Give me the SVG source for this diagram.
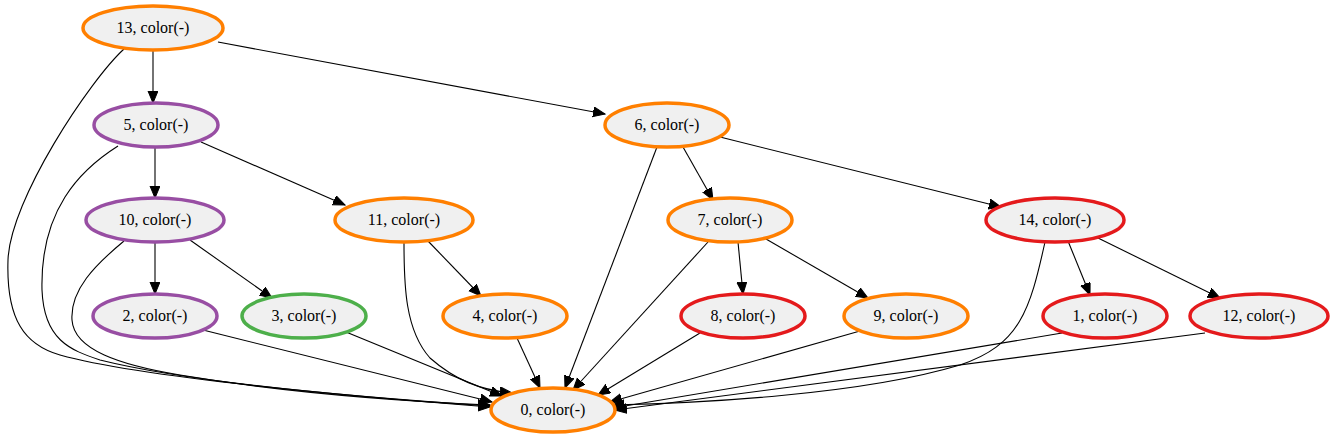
<svg xmlns="http://www.w3.org/2000/svg" width="1333" height="443" viewBox="0 0 1333 443">
<style>
.n ellipse{fill:#f0f0f0;stroke-width:3.5}
.n text{font-size:16px;text-anchor:middle;fill:#000}
.o ellipse{stroke:#ff7f00}.p ellipse{stroke:#984ea3}.g ellipse{stroke:#4daf4a}.r ellipse{stroke:#e41a1c}
#edges path{fill:none;stroke:#000;stroke-width:1.1;marker-end:url(#ah)}
</style>
<defs>
<marker id="ah" markerUnits="userSpaceOnUse" markerWidth="14" markerHeight="12" refX="12" refY="5" orient="auto">
<path d="M0,0 L12,5 L0,10 Z" fill="#000" stroke="#000"/>
</marker>
</defs>
<rect width="1333" height="443" fill="#fff"/>
<g id="edges">
<path d="M153,50 L153,103"/>
<path d="M218,42 L605,114"/>
<path d="M124,49 C90,80 10,200 8,260 C6,320 25,345 60,355 C150,380 400,400 490,407"/>
<path d="M155,147 L155,198"/>
<path d="M201,142 L345,205"/>
<path d="M118,146 C80,170 40,210 42,290 C44,340 70,350 100,360 C200,385 400,400 490,406"/>
<path d="M155,242 L155,294"/>
<path d="M190,240 L272,298"/>
<path d="M124,241 C95,265 70,290 72,320 C74,350 120,365 180,375 C300,395 420,402 490,405"/>
<path d="M683,147 L713,200"/>
<path d="M720,137 L1001,207"/>
<path d="M657,147 L565,388"/>
<path d="M428,241 L481,296"/>
<path d="M404,243 C404,285 405,330 430,358 C455,380 480,390 512,393"/>
<path d="M738,242 L743,294"/>
<path d="M766,239 L868,298"/>
<path d="M708,242 L573,390"/>
<path d="M1068,241 L1090,295"/>
<path d="M1098,238 L1220,298"/>
<path d="M1045,242 C1030,310 1020,345 960,365 C860,395 700,403 612,405"/>
<path d="M203,330 L492,402"/>
<path d="M346,332 L502,396"/>
<path d="M517,338 L540,388"/>
<path d="M700,333 L598,395"/>
<path d="M860,331 L610,402"/>
<path d="M1062,333 L613,408"/>
<path d="M1205,333 L615,410"/>
</g>
<g font-family="Liberation Serif, serif">
<g id="n13" class="n o"><ellipse cx="153" cy="28" rx="70" ry="22"/><text x="153" y="33">13, color(-)</text></g>
<g id="n5" class="n p"><ellipse cx="156" cy="125" rx="62" ry="22"/><text x="156" y="130">5, color(-)</text></g>
<g id="n6" class="n o"><ellipse cx="667" cy="125" rx="62" ry="22"/><text x="667" y="130">6, color(-)</text></g>
<g id="n10" class="n p"><ellipse cx="155" cy="220" rx="69" ry="22"/><text x="155" y="225">10, color(-)</text></g>
<g id="n11" class="n o"><ellipse cx="404" cy="220" rx="69" ry="22"/><text x="404" y="225">11, color(-)</text></g>
<g id="n7" class="n o"><ellipse cx="730" cy="220" rx="62" ry="22"/><text x="730" y="225">7, color(-)</text></g>
<g id="n14" class="n r"><ellipse cx="1055" cy="220" rx="69" ry="22"/><text x="1055" y="225">14, color(-)</text></g>
<g id="n2" class="n p"><ellipse cx="155" cy="316" rx="62" ry="22"/><text x="155" y="321">2, color(-)</text></g>
<g id="n3" class="n g"><ellipse cx="304" cy="316" rx="62" ry="22"/><text x="304" y="321">3, color(-)</text></g>
<g id="n4" class="n o"><ellipse cx="505" cy="316" rx="62" ry="22"/><text x="505" y="321">4, color(-)</text></g>
<g id="n8" class="n r"><ellipse cx="743" cy="316" rx="62" ry="22"/><text x="743" y="321">8, color(-)</text></g>
<g id="n9" class="n o"><ellipse cx="906" cy="316" rx="62" ry="22"/><text x="906" y="321">9, color(-)</text></g>
<g id="n1" class="n r"><ellipse cx="1105" cy="316" rx="62" ry="22"/><text x="1105" y="321">1, color(-)</text></g>
<g id="n12" class="n r"><ellipse cx="1259" cy="316" rx="69" ry="22"/><text x="1259" y="321">12, color(-)</text></g>
<g id="n0" class="n o"><ellipse cx="553" cy="410" rx="62" ry="22"/><text x="553" y="415">0, color(-)</text></g>
</g>
</svg>
